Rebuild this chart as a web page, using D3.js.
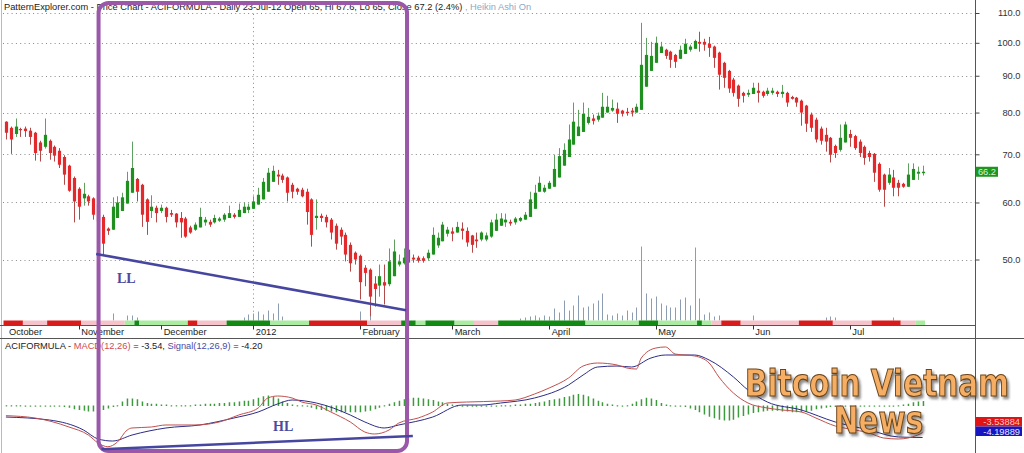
<!DOCTYPE html>
<html><head><meta charset="utf-8">
<script src="https://cdn.jsdelivr.net/npm/d3@7"></script>
<style>body{margin:0;background:#fff}svg{display:block}</style>
</head><body>
<svg id="c" width="1024" height="453"></svg>
<script>
// Heikin Ashi candles [open, high, low, close]
const candles = [
[77.7,77.8,73.4,75.0],[76.2,76.5,70.1,73.4],[74.7,78.5,74.0,76.5],[75.9,76.2,74.0,75.6],[76.0,76.5,74.0,75.4],
[75.5,76.2,72.2,74.0],[75.0,75.2,68.6,70.3],[72.7,73.1,68.4,70.8],[71.7,78.5,71.3,74.5],[73.1,73.4,68.8,70.3],
[71.7,72.0,68.4,69.7],[70.8,71.4,67.0,67.7],[69.4,69.8,63.5,65.6],[67.5,67.7,62.1,62.3],[64.9,65.2,56.3,60.2],
[62.7,63.0,56.8,59.2],[60.8,63.9,59.4,61.7],[61.2,61.5,59.4,60.2],[60.8,61.0,56.8,57.7],[59.6,60.0,55.5,56.4],
[57.3,57.7,50.8,52.6],[55.2,55.4,54.1,54.8],[55.0,61.0,55.0,59.2],[57.1,61.2,57.1,60.0],[58.4,61.9,58.4,61.0],
[59.8,66.2,59.8,64.3],[61.9,72.9,61.9,67.0],[64.7,64.9,60.2,62.1],[63.5,63.7,55.5,57.7],[60.6,60.8,54.1,56.4],
[58.4,61.4,57.1,59.2],[59.0,59.4,56.3,58.0],[58.4,59.6,58.0,59.0],[59.0,59.2,56.3,57.3],[58.0,58.6,57.3,57.7],
[57.9,58.0,55.4,56.3],[57.1,58.2,53.6,56.3],[57.0,57.3,53.6,53.8],[55.4,55.7,54.3,54.5],[55.0,56.3,54.8,55.9],
[55.4,59.0,55.4,57.3],[56.3,57.3,55.7,56.8],[56.4,56.8,55.5,55.9],[56.3,57.7,56.1,57.1],[56.6,57.3,56.4,57.0],
[56.8,58.0,56.4,57.7],[57.1,59.4,57.1,58.0],[57.7,58.0,57.0,57.3],[57.3,59.8,57.3,58.6],[58.0,60.0,58.0,59.2],
[58.6,59.8,58.0,59.2],[58.8,61.2,58.8,60.2],[59.6,62.9,59.6,61.5],[60.6,64.9,60.6,64.1],[62.1,67.0,62.1,66.0],
[64.1,67.5,64.1,66.4],[65.6,66.6,63.5,65.2],[65.4,65.8,63.9,64.5],[65.0,65.2,60.2,61.9],[63.5,63.9,60.8,62.1],
[62.7,62.9,61.5,62.1],[62.5,62.9,61.0,61.2],[62.1,62.7,55.9,58.2],[60.6,60.8,52.1,54.1],[57.1,60.6,55.0,57.5],
[57.5,57.9,56.4,57.1],[57.3,57.7,55.4,56.3],[56.8,57.1,53.3,54.5],[55.7,56.1,51.6,52.6],[55.0,55.4,52.4,53.8],
[54.1,54.5,49.7,50.8],[52.4,52.8,48.1,49.4],[51.1,51.3,49.2,50.0],[50.6,50.8,44.0,46.5],[48.7,49.1,45.9,47.9],
[48.4,48.6,41.7,44.4],[46.3,47.4,43.0,45.5],[46.0,49.2,44.4,47.4],[46.5,49.2,43.3,46.0],[46.2,51.8,45.9,49.7],
[47.4,53.3,47.4,51.3],[49.2,50.8,48.9,49.7],[49.4,51.8,49.2,50.3],[49.5,51.9,49.5,51.6],[50.3,50.8,49.5,50.0],
[50.3,50.6,49.5,49.8],[50.2,50.5,49.5,49.8],[50.2,51.6,49.8,51.1],[50.8,55.4,50.8,54.1],[52.3,54.5,51.9,53.6],
[53.0,56.4,53.0,55.9],[54.3,55.5,53.8,55.0],[54.7,55.4,53.0,54.3],[54.5,56.4,54.5,55.5],[55.2,56.3,53.3,54.8],
[54.8,55.4,52.1,52.8],[54.0,54.1,51.1,52.4],[53.3,54.5,51.9,53.0],[53.3,54.7,53.0,54.5],[53.3,54.5,53.0,54.0],
[53.8,56.8,53.6,56.3],[54.8,57.9,54.8,56.8],[55.7,58.0,55.7,57.0],[56.3,57.9,55.5,56.8],[56.4,56.8,55.7,56.1],
[56.3,57.3,55.9,57.0],[56.6,57.3,56.4,57.1],[56.8,58.2,56.8,57.7],[57.3,62.1,57.3,60.6],[58.8,63.5,58.8,61.9],
[62.1,65.2,62.1,63.9],[62.1,63.5,61.9,62.9],[62.7,64.3,62.7,63.9],[63.1,69.9,63.1,66.8],[65.0,71.4,65.0,69.6],
[67.5,72.5,67.5,71.0],[69.4,77.0,69.4,73.4],[72.2,82.6,72.2,77.7],[74.2,80.7,74.2,76.5],[75.2,82.6,75.2,79.7],
[77.4,81.2,77.0,78.9],[78.5,79.5,77.0,77.9],[78.2,80.0,77.7,79.2],[78.7,85.2,78.7,81.5],[80.0,84.4,80.0,81.5],
[80.5,83.4,80.2,81.2],[81.0,82.6,77.4,79.7],[80.5,80.7,79.0,79.7],[80.2,81.2,79.2,80.0],[80.5,81.2,79.0,80.0],
[80.0,82.3,80.0,81.5],[80.7,106.6,80.7,93.2],[86.9,101.6,86.9,96.2],[91.4,100.3,91.4,95.9],[93.8,102.0,93.8,100.0],
[96.8,100.3,96.8,98.8],[97.8,98.1,95.0,95.9],[97.2,97.5,92.3,94.7],[96.2,96.5,92.3,94.1],[95.0,99.1,95.0,97.8],
[96.5,101.3,96.5,99.7],[97.8,99.4,97.2,98.8],[98.1,101.0,98.1,100.6],[100.3,103.6,97.2,99.7],[100.3,101.3,97.5,99.4],
[99.7,101.9,95.6,98.4],[98.8,99.1,92.3,95.3],[96.9,97.2,86.1,90.3],[93.8,94.1,86.6,89.4],[91.4,91.7,85.2,86.4],
[88.9,89.4,84.2,85.2],[87.2,87.5,81.5,83.6],[85.2,85.5,82.6,84.4],[84.7,86.1,84.1,85.2],[84.9,88.0,84.9,86.6],
[85.8,88.0,82.6,85.2],[85.5,85.8,83.9,84.4],[84.9,86.6,84.4,85.8],[85.2,86.6,84.7,85.8],[85.5,85.8,84.1,84.9],
[84.9,87.4,83.9,85.5],[85.2,85.5,81.5,82.6],[84.1,84.4,83.4,83.6],[83.9,84.1,81.5,82.6],[83.1,83.4,76.7,80.0],
[81.8,82.0,75.2,77.2],[79.5,80.0,75.2,76.2],[78.2,78.7,72.7,73.4],[76.0,76.5,72.2,73.1],[74.5,76.2,70.6,72.9],
[73.8,74.0,68.2,69.9],[71.9,72.2,69.2,70.3],[71.0,77.0,70.6,73.8],[72.7,77.7,72.7,77.0],[74.7,75.7,71.7,73.8],
[74.2,74.5,71.0,71.4],[72.9,73.4,69.4,70.3],[71.7,72.0,67.7,69.2],[70.3,70.8,68.4,69.4],[70.1,70.3,64.1,66.0],
[67.9,68.2,62.1,62.5],[65.6,65.8,59.2,62.5],[63.9,67.0,63.5,65.6],[65.0,66.6,61.2,62.9],[63.9,64.5,61.2,62.9],
[63.7,63.9,62.9,63.1],[63.1,68.0,63.1,65.6],[64.5,68.0,64.5,66.8],[65.8,67.3,64.5,66.2],[65.9,67.5,65.4,66.2]
];

const volume = [
0,0,0,0,0,0,0,0,0,0, 0,0,0,0,0,0,0,0,0,0, 0,0,7,0,0,5,5,3,0,0,
0,0,0,0,0,0,0,0,0,0, 0,0,0,0,0,0,0,0,0,3, 6,7,9,6,10,7,17,4,0,0,
0,0,0,0,0,0,0,0,0,0, 0,0,0,9,0,14,0,0,0,0, 0,0,0,0,0,0,0,0,0,0,
0,0,0,0,0,0,0,0,0,0, 0,0,0,0,0,0,2,3,4,5, 3,5,4,12,8,20,10,15,25,13,
14,17,20,27,6,5,7,5,10,8, 13,74,27,22,24,17,15,13,13,21, 23,15,73,22,6,8,4,5,0,0,
0,0,0,0,5,0,0,0,0,0, 0,0,0,0,0,0,0,0,0,3, 4,3,0,0,0,0,0,0,0,0,
0,0,0,3,0,0,0,0,0,0
];

const priceTicks = [50, 60, 70, 80, 90, 100, 110];
const monthLabels = ["October","November","December","2012","February","March","April","May","Jun","Jul"];
const monthIdx = [0, 15, 32, 51, 73, 92, 112, 134, 154, 174];

// trend strip: [firstIndex, lastIndex, state]
const stripSegs = [[0,3,"R"],[4,8,"P"],[9,15,"R"],[16,24,"P"],[25,26,"LG"],[27,27,"DG"],[28,37,"LG"],[38,39,"R"],
[40,45,"P"],[46,54,"DG"],[55,62,"LG"],[63,74,"R"],[75,81,"P"],[82,84,"DG"],[85,86,"LG"],[87,92,"DG"],[93,96,"LG"],
[97,101,"P"],[102,119,"DG"],[120,130,"LG"],[131,134,"DG"],[135,142,"LG"],[143,143,"DG"],[144,145,"LG"],[146,147,"P"],
[148,151,"R"],[152,163,"P"],[164,170,"R"],[171,178,"P"],[179,184,"R"],[185,187,"P"],[188,189,"LG"]];

// MACD / Signal read at candle indices
const macdPts = [[0,-1.29],[6,-1.6],[13,-2.8],[17,-3.87],[19,-4.93],[21,-5.43],[23,-4.8],[25,-3.2],[26,-2.93],[30,-2.8],
[33,-2.53],[39,-2.53],[44,-2.13],[48,-1.2],[52,-0.27],[54,1.07],[56,1.33],[59,1.07],[61,0.53],[64,0.13],[67,-0.8],
[71,-2.13],[74,-3.47],[76,-3.73],[79,-3.2],[81,-2.27],[85,-1.6],[88,-0.8],[91,0.4],[95,0.53],[102,0.67],[105,0.8],
[109,1.6],[112,2.4],[116,3.73],[119,5.33],[122,5.73],[126,5.47],[128,5.07],[130,4.93],[131,6.4],[134,7.73],[136,7.87],
[138,6.93],[142,6.67],[145,5.73],[147,3.87],[150,1.73],[153,0.4],[157,-0.27],[160,-0.53],[164,-0.8],[167,-1.6],
[171,-2.67],[174,-3.07],[178,-3.6],[181,-4.27],[184,-4.4],[188,-3.87],[189,-3.54]];
const signalPts = [[0,-1.47],[9,-1.87],[16,-3.2],[19,-4.4],[22,-4.67],[26,-3.87],[33,-2.93],[40,-2.53],[47,-1.6],
[52,-0.8],[56,0.27],[59,0.8],[64,0.4],[71,-1.2],[74,-2.13],[78,-2.93],[81,-2.53],[88,-1.47],[94,0.13],[98,0.13],
[102,0.4],[109,1.07],[116,2.8],[119,4.13],[122,5.2],[126,5.33],[129,5.2],[133,6.4],[136,6.8],[142,6.8],[145,6.13],
[150,3.87],[153,2.13],[157,0.53],[164,-0.53],[171,-2.13],[178,-3.2],[184,-4.13],[189,-4.2]];
const hist = [
0.1,0.1,0.1,0.1,0.05,0.05,0.05,0.05,0.05,0,-0.05,-0.1,-0.2,
-0.3,-0.5,-0.6,-0.7,-0.8,-0.8,-0.7,-0.6,-0.4,-0.2,
0.1,0.6,1.0,1.0,0.9,0.6,0.4,0.3,0.3,0.2,0.2,0.1,0.1,0.1,0.1,
0.1,0.2,0.2,0.3,0.3,0.3,0.4,0.4,0.5,0.5,0.6,0.7,0.7,0.9,1.1,
1.3,1.4,1.2,1.0,0.6,0.4,0.2,0.1,0.1,-0.1,
-0.3,-0.5,-0.6,-0.7,-0.8,-0.9,-0.9,-0.9,-0.9,-0.9,-0.9,-0.8,-0.7,-0.5,-0.3,
0.1,0.3,0.5,0.7,0.9,1.0,1.1,1.1,1.0,0.9,0.8,0.6,0.5,0.3,0.2,0.1,
0.05,0.05,0.05,0.05,0.05,0.05,0.05,0.05,
0.1,0.1,0.1,0.2,0.2,0.3,0.3,0.4,0.5,0.6,0.8,0.9,1.0,1.2,1.3,1.5,1.6,1.5,1.3,1.0,0.7,0.5,0.3,0.2,0.1,0.05,
0.1,0.3,0.6,0.9,1.1,1.0,0.8,0.4,0.2,0.1,0.05,
-0.05,-0.2,-0.4,-0.6,-0.9,-1.2,-1.5,-1.7,-1.9,-2.0,-2.0,-1.9,-1.6,-1.4,-1.2,-1.0,-0.9,-0.8,-0.7,-0.7,-0.7,-0.8,-0.8,-0.9,-0.9,-0.9,-0.8,-0.7,-0.5,-0.4,-0.3,-0.2,-0.2,-0.1,-0.1,
-0.05,-0.05,-0.05,-0.05,0.05,0.05,0.05,0.05,0.05,0.05,
0.1,0.2,0.3,0.5,0.6,0.66];

// annotations in data coordinates [candle index, value]
const llLine = [[18.6, 50.9], [82.5, 42.5]];
const hlLine = [[19.7, -5.77], [83.9, -4.0]];
const boxRange = [19.1, 82.7];

const FONT = "'Liberation Sans', Arial, sans-serif";
const svg = d3.select("#c");
const n = candles.length;
const xb = d3.scaleBand().domain(d3.range(n)).range([3.5, 925]);
const cx = i => xb(i) + xb.bandwidth() / 2;
const xi = d3.scaleLinear().domain([0, n - 1]).range([cx(0), cx(n - 1)]);
const y = d3.scaleLog().domain([50, 110]).range([259.5, 13]);
const yv = d3.scaleLinear().domain([0, 80]).range([320.5, 240.5]);
const ym = d3.scaleLinear().domain([-6, 8]).range([451, 346]);

const defs = svg.append("defs");
const f = defs.append("filter").attr("id","ds").attr("x","-10%").attr("y","-20%").attr("width","120%").attr("height","150%");
f.append("feDropShadow").attr("dx",2).attr("dy",2).attr("stdDeviation",0.8).attr("flood-color","#333").attr("flood-opacity",0.55);

// borders
svg.append("line").attr("x1",1.5).attr("x2",1.5).attr("y1",0).attr("y2",453).attr("stroke","#bbb");
// price grid
svg.append("g").selectAll("line").data(priceTicks).join("line")
  .attr("x1",3).attr("x2",975).attr("y1",d=>Math.round(y(d))+0.5).attr("y2",d=>Math.round(y(d))+0.5)
  .attr("stroke","#888").attr("stroke-dasharray","1,3.3");
// year separator
svg.append("line").attr("x1",Math.round(cx(51))+0.5).attr("x2",Math.round(cx(51))+0.5).attr("y1",14).attr("y2",320)
  .attr("stroke","#888").attr("stroke-dasharray","1,3.3");

// volume
svg.append("g").selectAll("line").data(volume.map((v,i)=>[i,v]).filter(d=>d[1]>0)).join("line")
  .attr("x1",d=>Math.round(cx(d[0]))+0.5).attr("x2",d=>Math.round(cx(d[0]))+0.5)
  .attr("y1",yv(0)).attr("y2",d=>yv(d[1])).attr("stroke","#8c9db3").attr("stroke-width",1);

// strip
const stripColor = {R:"#d81c1c", P:"#f6c3cb", LG:"#a9eca2", DG:"#138a13"};
svg.append("g").selectAll("rect").data(stripSegs).join("rect")
  .attr("x",d=>xb(d[0])).attr("width",d=>xb(d[1])+xb.bandwidth()-xb(d[0]))
  .attr("y",320.5).attr("height",4.5).attr("fill",d=>stripColor[d[2]]);

// candles
const bw = 3.2;
const cg = svg.append("g");
cg.selectAll("line").data(candles).join("line")
  .attr("x1",(d,i)=>Math.round(cx(i))+0.5).attr("x2",(d,i)=>Math.round(cx(i))+0.5)
  .attr("y1",d=>y(d[1])).attr("y2",d=>y(d[2]))
  .attr("stroke",d=>d[3]>=d[0]?"#5f9f5f":"#b24a4a").attr("stroke-width",1);
cg.selectAll("rect").data(candles).join("rect")
  .attr("x",(d,i)=>Math.round(cx(i))+0.5-bw/2).attr("width",bw)
  .attr("y",d=>y(Math.max(d[0],d[3])))
  .attr("height",d=>Math.max(1.2,y(Math.min(d[0],d[3]))-y(Math.max(d[0],d[3]))))
  .attr("fill",d=>d[3]>=d[0]?"#1f8f1f":"#e3292b");

// frame lines
svg.append("line").attr("x1",0).attr("x2",975).attr("y1",325.5).attr("y2",325.5).attr("stroke","#555");
svg.append("line").attr("x1",0).attr("x2",1024).attr("y1",338.5).attr("y2",338.5).attr("stroke","#555");
svg.append("line").attr("x1",975.5).attr("x2",975.5).attr("y1",0).attr("y2",453).attr("stroke","#555");

// price axis
const pax = svg.append("g").attr("transform","translate(975.5,0)")
  .call(d3.axisRight(y).tickValues(priceTicks).tickFormat(d3.format(".1f")).tickSize(4).tickSizeOuter(0));
pax.select(".domain").remove();
pax.selectAll("line").attr("stroke","#444");
pax.selectAll("text").attr("x",45).attr("text-anchor","end").attr("fill","#333")
  .style("font-family",FONT).style("font-size","9.3px");

// month axis
const mg = svg.append("g");
mg.selectAll("line").data(monthIdx.slice(1)).join("line")
  .attr("x1",d=>Math.round(cx(d))+0.5).attr("x2",d=>Math.round(cx(d))+0.5).attr("y1",325.5).attr("y2",329.5)
  .attr("stroke","#333");
mg.selectAll("text").data(monthIdx).join("text")
  .attr("x",(d,i)=>cx(d)+(i===0?3:2.5)).attr("y",334.5).text((d,i)=>monthLabels[i])
  .attr("fill","#222").style("font-family",FONT).style("font-size","9.3px");

// header
const hdr = svg.append("text").attr("x",4).attr("y",9.5).style("font-family",FONT).style("font-size","9.3px");
hdr.append("tspan").attr("fill","#222").text("PatternExplorer.com - Price Chart - ACIFORMULA - Daily 23-Jul-12 Open 65, Hi 67.6, Lo 65, Close 67.2 (2.4%)");
hdr.append("tspan").attr("fill","#8ea8c6").text(" , Heikin Ashi On");

// last price label
const last = candles[n-1][3];
svg.append("rect").attr("x",976).attr("y",y(last)-5).attr("width",22).attr("height",10).attr("fill","#1f951f");
svg.append("text").attr("x",987).attr("y",y(last)+3.4).attr("text-anchor","middle").text(d3.format(".1f")(last))
  .attr("fill","#d6f5d6").style("font-family",FONT).style("font-size","9.3px");

// MACD title
const mt = svg.append("text").attr("x",5).attr("y",348.5).style("font-family",FONT).style("font-size","9.3px");
mt.append("tspan").attr("fill","#222").text("ACIFORMULA - ");
mt.append("tspan").attr("fill","#d44a4a").text("MACD(12,26)");
mt.append("tspan").attr("fill","#222").text(" = -3.54, ");
mt.append("tspan").attr("fill","#4a4aa6").text("Signal(12,26,9)");
mt.append("tspan").attr("fill","#222").text(" = -4.20");

// histogram
svg.append("g").selectAll("rect").data(hist).join("rect")
  .attr("x",(d,i)=>Math.round(cx(i))-0.3).attr("width",1.5)
  .attr("y",d=>Math.min(ym(d),ym(0)-0.5))
  .attr("height",d=>Math.max(1.2,Math.abs(ym(d)-ym(0))))
  .attr("fill","#3f9a3f");

// MACD & signal lines
const ln = d3.line().x(d=>xi(d[0])).y(d=>ym(d[1])).curve(d3.curveMonotoneX);
svg.append("path").attr("d",ln(signalPts)).attr("fill","none").attr("stroke","#2c2c86").attr("stroke-width",1);
svg.append("path").attr("d",ln(macdPts)).attr("fill","none").attr("stroke","#c0504d").attr("stroke-width",1);

// value boxes
svg.append("rect").attr("x",976).attr("y",417).attr("width",46).attr("height",9.5).attr("fill","#e01414");
svg.append("text").attr("x",1020).attr("y",425).attr("text-anchor","end").text("-3.53884")
  .attr("fill","#f7c8c8").style("font-family",FONT).style("font-size","9.3px");
svg.append("rect").attr("x",976).attr("y",426.5).attr("width",46).attr("height",9.5).attr("fill","#1515c2");
svg.append("text").attr("x",1020).attr("y",434.5).attr("text-anchor","end").text("-4.19889")
  .attr("fill","#e6e6ff").style("font-family",FONT).style("font-size","9.3px");

// annotations
svg.append("rect").attr("x",xi(boxRange[0])).attr("y",3).attr("width",xi(boxRange[1])-xi(boxRange[0]))
  .attr("height",448).attr("rx",10).attr("fill","none").attr("stroke","#9b58a9").attr("stroke-width",4);
svg.append("line").attr("x1",xi(llLine[0][0])).attr("y1",y(llLine[0][1])).attr("x2",xi(llLine[1][0])).attr("y2",y(llLine[1][1]))
  .attr("stroke","#4646a0").attr("stroke-width",2.6);
svg.append("line").attr("x1",xi(hlLine[0][0])).attr("y1",ym(hlLine[0][1])).attr("x2",xi(hlLine[1][0])).attr("y2",ym(hlLine[1][1]))
  .attr("stroke","#4646a0").attr("stroke-width",2.6);
svg.append("text").attr("x",117).attr("y",283).text("LL").attr("fill","#4a4aa0")
  .style("font-family","'Liberation Serif','DejaVu Serif',serif").style("font-weight","bold").style("font-size","14px");
svg.append("text").attr("x",273).attr("y",430.5).text("HL").attr("fill","#4a4aa0")
  .style("font-family","'Liberation Serif','DejaVu Serif',serif").style("font-weight","bold").style("font-size","14px");

// watermark: one text element, two lines, shadow via filter, vertically stretched
const wmText = svg.append("g").attr("transform","translate(745,396) scale(1,1.28)")
  .append("text").attr("fill","#f5ae64").attr("stroke","#6a4418").attr("stroke-width",0.9).attr("filter","url(#ds)")
  .style("font-family","'DejaVu Sans',sans-serif").style("font-weight","bold").style("font-size","29.5px");
wmText.append("tspan").attr("x",0).attr("y",0).text("Bitcoin Vietnam");
wmText.append("tspan").attr("x",89).attr("y",28.9).style("font-size","29.4px").text("News");
</script>
</body></html>
